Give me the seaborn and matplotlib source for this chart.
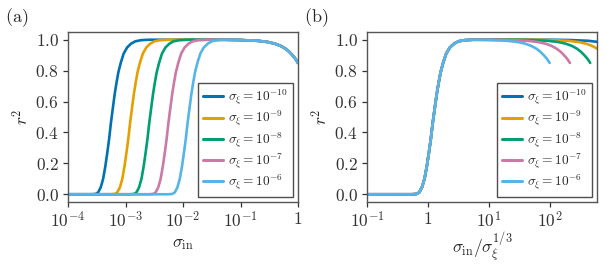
import numpy as np
import pandas as pd
import matplotlib
matplotlib.use("Agg")
import matplotlib.pyplot as plt
import seaborn as sns
from matplotlib.ticker import FixedLocator, FuncFormatter, NullLocator

# ---------------- data ----------------
sigma_xi = [1e-10, 1e-9, 1e-8, 1e-7, 1e-6]
labels = [r"$\sigma_\xi = 10^{-10}$", r"$\sigma_\xi = 10^{-9}$", r"$\sigma_\xi = 10^{-8}$",
          r"$\sigma_\xi = 10^{-7}$", r"$\sigma_\xi = 10^{-6}$"]
colors = ["#0072B2", "#E69F00", "#009E73", "#CC79A7", "#56B4E9"]

# common rise, as function of u = sigma_in / sigma_xi^(1/3) (panel b)
u_rise = [0.010, 0.30, 0.55, 0.65, 0.72, 0.80, 0.88, 0.96, 1.04, 1.12, 1.20, 1.30,
          1.40, 1.50, 1.62, 1.78, 2.00, 2.30, 2.70, 3.20, 4.00, 5.50]
r2_rise = [0.0, 0.0, 0.0, 0.002, 0.012, 0.045, 0.10, 0.18, 0.27, 0.36, 0.46, 0.56,
           0.65, 0.72, 0.79, 0.85, 0.91, 0.95, 0.975, 0.99, 0.997, 1.0]

# common fall-off at large sigma_in (panel a)
sin_tail = [0.05, 0.1, 0.2, 0.3, 0.4, 0.5, 0.6, 0.7, 0.8, 0.9, 1.0]
r2_tail = [1.0, 0.998, 0.993, 0.985, 0.974, 0.960, 0.943, 0.923, 0.900, 0.877, 0.850]

# ---------------- build table ----------------
rows = []
for sx, lab in zip(sigma_xi, labels):
    c = sx ** (1.0 / 3.0)
    last = None
    for uu, rr in zip(u_rise, r2_rise):
        rows.append((lab, uu * c, uu, rr))
        last = uu * c
    for ss, rr in zip(sin_tail, r2_tail):
        if ss > last:
            rows.append((lab, ss, ss / c, rr))
df = pd.DataFrame(rows, columns=["label", "sigma_in", "scaled", "r2"])

# ---------------- style ----------------
sns.set_theme(style="ticks")
plt.rcParams.update({
    "font.family": ["DejaVu Serif"],
    "mathtext.fontset": "cm",
    "axes.edgecolor": "#555555",
    "axes.linewidth": 1.0,
    "xtick.color": "#333333",
    "ytick.color": "#333333",
    "xtick.major.size": 3.5,
    "ytick.major.size": 3.5,
    "xtick.major.width": 0.9,
    "ytick.major.width": 0.9,
})

fig = plt.figure(figsize=(6.09, 2.66), dpi=100)
axa = fig.add_axes([68 / 609, 1 - 202 / 266, 230 / 609, 170 / 266])
axb = fig.add_axes([367 / 609, 1 - 202 / 266, 230 / 609, 170 / 266])

pal = dict(zip(labels, colors))

def logfmt(v, pos):
    e = int(round(np.log10(v)))
    if e == 0:
        return r"$1$"
    return r"$10^{%d}$" % e

for ax, xcol, xlim, xt in [
    (axa, "sigma_in", (1e-4, 1.0), [1e-4, 1e-3, 1e-2, 1e-1, 1.0]),
    (axb, "scaled", (0.1, 600.0), [1e-1, 1.0, 1e1, 1e2]),
]:
    sns.lineplot(data=df, x=xcol, y="r2", hue="label", hue_order=labels, palette=pal,
                 sort=False, estimator=None, linewidth=1.9, ax=ax)
    ax.set_xscale("log")
    ax.set_xlim(*xlim)
    ax.set_ylim(-0.05, 1.05)
    ax.xaxis.set_major_locator(FixedLocator(xt))
    ax.xaxis.set_minor_locator(NullLocator())
    ax.xaxis.set_major_formatter(FuncFormatter(logfmt))
    ax.yaxis.set_major_locator(FixedLocator([0.0, 0.2, 0.4, 0.6, 0.8, 1.0]))
    ax.yaxis.set_major_formatter(FuncFormatter(lambda v, p: r"$%.1f$" % v))
    ax.tick_params(labelsize=12.5, pad=3)
    ax.set_ylabel(r"$r^2$", fontsize=12.5, labelpad=2)
    leg = ax.legend(loc="lower right", frameon=True, fancybox=False, fontsize=9.6,
                    handlelength=1.5, handletextpad=0.4, labelspacing=0.12,
                    borderaxespad=0.4, borderpad=0.35)
    leg.get_frame().set_edgecolor("#222222")
    leg.get_frame().set_linewidth(1.0)
    for ln in leg.get_lines():
        ln.set_linewidth(2.2)

axa.set_xlabel(r"$\sigma_{\rm in}$", fontsize=12.5, labelpad=3)
axb.set_xlabel(r"$\sigma_{\rm in}/\sigma_\xi^{1/3}$", fontsize=12.5, labelpad=-1)

fig.text(5 / 609, 1 - 22 / 266, r"$\mathrm{(a)}$", fontsize=13, va="baseline")
fig.text(304 / 609, 1 - 22 / 266, r"$\mathrm{(b)}$", fontsize=13, va="baseline")

fig.savefig("out.png", dpi=100)
